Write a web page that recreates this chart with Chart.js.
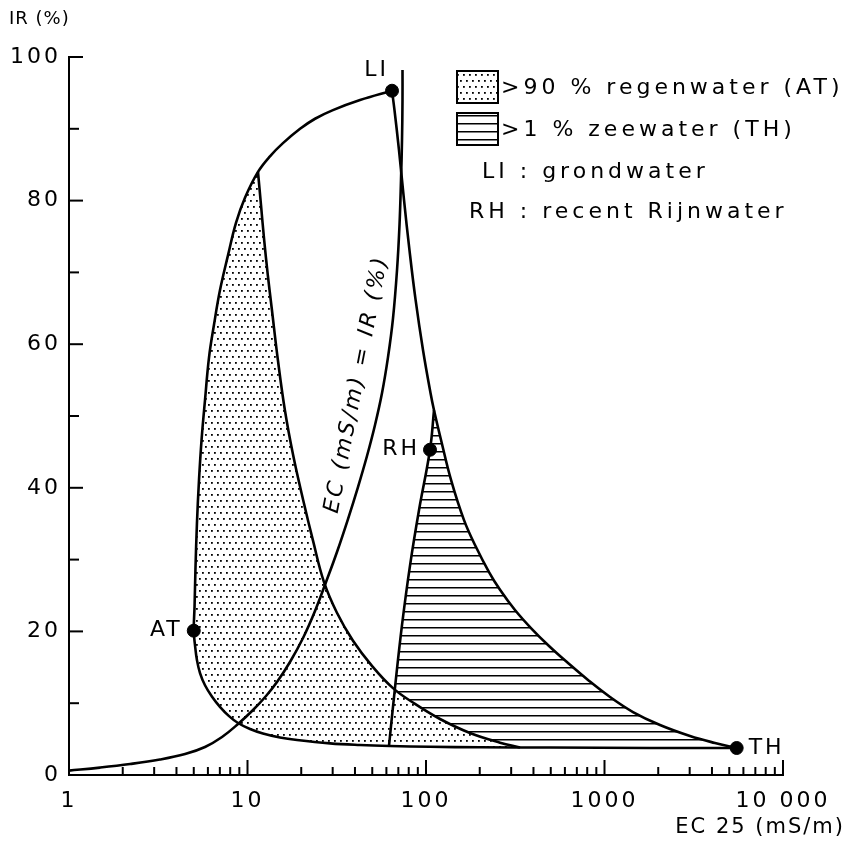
<!DOCTYPE html>
<html>
<head>
<meta charset="utf-8">
<script src="https://cdn.jsdelivr.net/npm/chart.js@4/dist/chart.umd.min.js"></script>
<style>
  html, body { margin: 0; padding: 0; background: #fff; }
</style>
</head>
<body>
<canvas id="chart" width="866" height="846"></canvas>
<script>
// EC 25 (mS/m) against IR (%)
const xTicks = [1, 2, 3, 4, 5, 6, 7, 8, 9, 10, 20, 30, 40, 50, 60, 70, 80, 90, 100,
  200, 300, 400, 500, 600, 700, 800, 900, 1000, 2000, 3000, 4000, 5000, 6000, 7000, 8000, 9000, 10000];
const xTickLabels = { 1: "1", 10: "10", 100: "100", 1000: "1000", 10000: "10 000" };
const yTickLabels = [0, 20, 40, 60, 80, 100];

// end members
const endNames = ["LI", "AT", "RH", "TH"];
const endEC = [64.5, 5.0, 105.3, 5500];
const endIR = [95.3, 20.1, 45.3, 3.76];

// LI -> AT -> TH (one continuous curve)
const liAtThEC = [64.5, 42.7, 30.1, 23.9, 19.7, 15.8, 13.4, 11.45, 9.68, 8.62, 7.78, 7.01, 6.49, 6.09,
  5.78, 5.53, 5.35, 5.21, 5.11, 5.05, 5.0, 5.08, 5.21, 5.42, 5.78, 6.33, 7.01, 7.88, 8.85, 10.33,
  12.2, 15.2, 18.94, 29.0, 42.7, 62.9, 105.3, 200.7, 495, 1798, 5500];
const liAtThIR = [95.3, 94.0, 92.6, 91.4, 90.0, 88.0, 86.2, 84.0, 80.4, 76.9, 72.4, 67.5, 62.7, 58.2,
  52.2, 46.7, 41.1, 35.1, 28.6, 23.4, 20.1, 18.1, 16.0, 14.2, 12.5, 10.9, 9.5, 8.2, 7.24, 6.4,
  5.78, 5.22, 4.87, 4.41, 4.18, 4.04, 3.93, 3.86, 3.82, 3.77, 3.76];

// >90 % rain water boundary
const rain90EC = [11.45, 11.9, 12.4, 13.0, 13.7, 14.8, 16.2, 18.0, 20.5, 23.3, 26.8, 31.7, 39.0,
  49.8, 65.3, 86.8, 119.8, 176.4, 259.8, 336.2];
const rain90IR = [84.0, 79.4, 74.5, 69.6, 64.8, 57.8, 50.8, 44.6, 38.3, 32.6, 26.9, 22.6, 18.7,
  15.2, 12.1, 9.9, 7.8, 5.85, 4.5, 3.84];

// LI -> TH
const liThEC = [64.5, 66.6, 70.6, 75.3, 80.8, 87.4, 96.2, 106.0, 110.9, 121.3, 138.1, 163.3, 190.6,
  225.4, 259.8, 315.1, 387.3, 488.8, 624.4, 808.5, 1074, 1444, 2046, 3013, 4159, 5500];
const liThIR = [95.3, 92.6, 87.0, 80.1, 73.1, 66.2, 59.2, 53.2, 50.8, 46.7, 41.1, 35.5, 31.75,
  28.27, 25.8, 22.98, 20.47, 17.97, 15.6, 13.23, 10.86, 8.77, 6.96, 5.43, 4.46, 3.76];

// >1 % sea water boundary through RH
const sea1EC = [110.9, 105.3, 91.4, 81.4, 73.4, 67.0, 62.0];
const sea1IR = [50.8, 45.3, 36.9, 29.2, 20.9, 12.1, 4.0];

// EC(mS/m) = IR(%)
const ecIrEC = [1.0, 1.49, 2.2, 3.23, 4.47, 5.78, 7.2, 8.85, 10.74, 12.7, 14.63, 17.3, 20.47, 23.89,
  27.54, 31.72, 36.56, 41.59, 46.71, 51.8, 56.7, 61.26, 65.33, 68.8, 71.05, 72.44, 73.38, 73.85, 73.85];
const ecIrIR = [0.61, 1.03, 1.53, 2.16, 2.92, 3.9, 5.29, 7.1, 9.05, 11.0, 12.95, 15.74, 19.08, 22.84,
  26.88, 31.06, 35.65, 40.11, 44.43, 48.75, 53.2, 58.2, 63.6, 70.3, 76.6, 82.9, 88.4, 94.0, 98.2];

const pts = (xs, ys) => xs.map((x, i) => ({ x: x, y: ys[i] }));

const FONT = "'DejaVu Sans', sans-serif";
const canvas = document.getElementById("chart");
const ctx = canvas.getContext("2d");

function dotPattern() {
  const c = document.createElement("canvas");
  c.width = 6; c.height = 12;
  const g = c.getContext("2d");
  g.fillStyle = "#fff";
  g.fillRect(0, 0, 6, 12);
  g.fillStyle = "#000";
  g.fillRect(1, 2, 1.8, 1.8);
  g.fillRect(4, 8, 1.8, 1.8);
  return ctx.createPattern(c, "repeat");
}

function hatchPattern() {
  const c = document.createElement("canvas");
  c.width = 8; c.height = 8;
  const g = c.getContext("2d");
  g.fillStyle = "#fff";
  g.fillRect(0, 0, 8, 8);
  g.fillStyle = "#000";
  g.fillRect(0, 3, 8, 1.5);
  return ctx.createPattern(c, "repeat");
}

// polygons for the two shaded areas, built from the curves
const arc = pts(liAtThEC, liAtThIR);
const topIdx = liAtThEC.indexOf(11.45);
const atIdx = liAtThEC.indexOf(5.0);
const dottedArea = pts(rain90EC, rain90IR)
  .concat(arc.slice(topIdx).filter(p => p.x < 336).reverse().slice(0, -1));
const hatchedArea = pts(sea1EC, sea1IR)
  .concat(arc.slice(atIdx).filter(p => p.x > 62.5))
  .concat(pts(liThEC, liThIR).filter(p => p.x > 110.9).reverse().slice(1));

const line = (data) => ({
  data: data, showLine: true, fill: false, borderColor: "#000", borderWidth: 2.6,
  pointRadius: 0, tension: 0.4, order: 2
});

const datasets = [
  {
    data: pts(endEC, endIR), pointRadius: 6.5, pointBackgroundColor: "#000",
    pointBorderColor: "#000", showLine: false, order: 1
  },
  line(arc),
  line(pts(rain90EC, rain90IR)),
  line(pts(liThEC, liThIR)),
  line(pts(sea1EC, sea1IR)),
  line(pts(ecIrEC, ecIrIR)),
  {
    data: hatchedArea, showLine: true, fill: "shape", backgroundColor: hatchPattern(),
    borderColor: "rgba(0,0,0,0)", borderWidth: 0, pointRadius: 0, tension: 0.4, order: 4
  },
  {
    data: dottedArea, showLine: true, fill: "shape", backgroundColor: dotPattern(),
    borderColor: "rgba(0,0,0,0)", borderWidth: 0, pointRadius: 0, tension: 0.4, order: 3
  }
];

const spacing = (c, px) => { if ("letterSpacing" in c) c.letterSpacing = px + "px"; };

const decorations = {
  id: "decorations",
  beforeDraw(chart) {
    spacing(chart.ctx, 3);
  },
  afterDraw(chart) {
    const { ctx: c, scales: { x, y } } = chart;
    c.save();
    c.strokeStyle = "#000";
    c.lineWidth = 2;
    // inward ticks on x
    xTicks.forEach(v => {
      const px = x.getPixelForValue(v);
      const major = xTickLabels[v] !== undefined;
      c.beginPath();
      c.moveTo(px, y.bottom);
      c.lineTo(px, y.bottom - (major ? 15 : 8));
      c.stroke();
    });
    // inward ticks on y
    for (let v = 10; v <= 100; v += 10) {
      const py = y.getPixelForValue(v);
      c.beginPath();
      c.moveTo(x.left, py);
      c.lineTo(x.left + (v % 20 === 0 ? 14 : 10), py);
      c.stroke();
    }

    c.fillStyle = "#000";
    c.textBaseline = "middle";
    c.font = "22px " + FONT;
    spacing(c, 3);

    // end member labels
    const offs = { LI: [-3, -20, "right"], AT: [-11, 0, "right"], RH: [-10, 0, "right"], TH: [12, 0, "left"] };
    endNames.forEach((n, i) => {
      const px = x.getPixelForValue(endEC[i]);
      const py = y.getPixelForValue(endIR[i]);
      c.textAlign = offs[n][2];
      c.fillText(n, px + offs[n][0], py + offs[n][1]);
    });

    // axis titles
    c.font = "21px " + FONT;
    spacing(c, 2);
    c.textAlign = "right";
    c.fillText("EC 25 (mS/m)", 845, 828);
    c.font = "18px " + FONT;
    spacing(c, 1);
    c.textAlign = "left";
    c.fillText("IR (%)", 9, 19);

    // legend
    c.font = "22px " + FONT;
    spacing(c, 4);
    const pat = [dotPattern(), hatchPattern()];
    const rows = [">90 % regenwater (AT)", ">1 % zeewater (TH)"];
    rows.forEach((t, i) => {
      const top = 71 + i * 42;
      c.fillStyle = pat[i];
      c.fillRect(457, top, 41, 32);
      c.lineWidth = 2;
      c.strokeRect(457, top, 41, 32);
      c.fillStyle = "#000";
      c.textAlign = "left";
      c.fillText(t, 501, top + 17);
    });
    c.fillText("LI : grondwater", 482, 172);
    c.fillText("RH : recent Rijnwater", 469, 212);

    // label along the EC = IR curve
    c.save();
    c.translate(x.getPixelForValue(57.4) - 26, y.getPixelForValue(54.4));
    c.rotate(-79 * Math.PI / 180);
    c.font = "italic 22px " + FONT;
    spacing(c, 2.5);
    c.textAlign = "center";
    c.fillText("EC (mS/m) = IR (%)", 0, 0);
    c.restore();
    c.restore();
  }
};

new Chart(ctx, {
  type: "scatter",
  data: { datasets: datasets },
  options: {
    responsive: false,
    animation: false,
    layout: { padding: { top: 57, right: 83, left: 0, bottom: 0 } },
    plugins: { legend: { display: false }, tooltip: { enabled: false } },
    scales: {
      x: {
        type: "logarithmic",
        min: 1,
        max: 10000,
        grid: { display: false, drawTicks: false },
        border: { display: true, color: "#000", width: 2 },
        afterBuildTicks: s => { s.ticks = xTicks.map(v => ({ value: v })); },
        afterFit: s => { s.height = 71; },
        ticks: {
          autoSkip: false, maxRotation: 0, padding: 13, color: "#000",
          font: { family: FONT, size: 22 },
          callback: v => xTickLabels[v] !== undefined ? xTickLabels[v] : ""
        }
      },
      y: {
        min: 0,
        max: 100,
        grid: { display: false, drawTicks: false },
        border: { display: true, color: "#000", width: 2 },
        afterFit: s => { s.width = 69; },
        ticks: {
          stepSize: 10, padding: 8, color: "#000",
          font: { family: FONT, size: 22 },
          callback: v => yTickLabels.includes(v) ? String(v) : ""
        }
      }
    }
  },
  plugins: [decorations]
});
</script>
</body>
</html>
